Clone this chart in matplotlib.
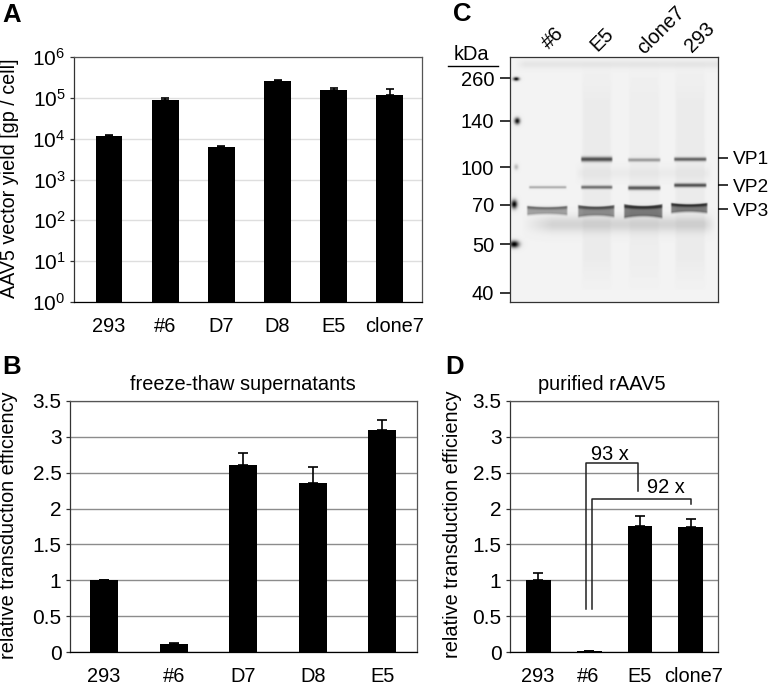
#!/usr/bin/env python

import matplotlib
matplotlib.use('Agg')
import matplotlib.pyplot as plt
import numpy as np

plt.rcParams['font.family'] = ['Liberation Sans', 'DejaVu Sans']
plt.rcParams['axes.axisbelow'] = True

# panel A
a_names = ['293', '#6', 'D7', 'D8', 'E5', 'clone7']
a_yield = [1.14e4, 9.0e4, 6.2e3, 2.6e5, 1.55e5, 1.2e5]
a_top = [1.2e4, 1.0e5, 6.6e3, 2.75e5, 1.7e5, 1.6e5]

# panel B
b_names = ['293', '#6', 'D7', 'D8', 'E5']
b_eff = [1.0, 0.11, 2.61, 2.36, 3.10]
b_err = [0.01, 0.015, 0.16, 0.225, 0.13]

# panel D
d_names = ['293', '#6', 'E5', 'clone7']
d_eff = [1.0, 0.02, 1.76, 1.74]
d_err = [0.10, 0.0, 0.13, 0.12]

eff_ticks = [0, 0.5, 1, 1.5, 2, 2.5, 3, 3.5]
eff_labels = ['0', '0.5', '1', '1.5', '2', '2.5', '3', '3.5']

# panel C, gel read in image pixels
kda_labels = ['260', '140', '100', '70', '50', '40']
kda_pos = [78, 120.7, 167.3, 205, 244, 292.7]
vp_labels = ['VP1', 'VP2', 'VP3']
vp_pos = [157.7, 185, 209.3]
lane_names = ['#6', 'E5', 'clone7', '293']
# x0, x1, y, half height, darkness
thin_bands = [
    (528, 567, 187, 1.3, 0.28),
    (580, 613, 159, 2.4, 0.62),
    (580, 613, 187, 1.7, 0.50),
    (627, 661, 159.7, 1.8, 0.33),
    (627, 661, 187.7, 2.0, 0.60),
    (673, 707, 159, 1.9, 0.55),
    (673, 707, 185, 1.9, 0.62),
]
vp3_bands = [
    (526, 568, 210, 5.0, 0.50),
    (577, 615, 210.5, 6.5, 0.60),
    (623, 663, 210.5, 7.5, 0.72),
    (670, 708, 207.5, 5.5, 0.72),
]
ladder_spots = [
    (516, 78.7, 3.0, 1.8, 0.95),
    (517, 120.7, 2.8, 3.2, 0.90),
    (516, 166.7, 2.2, 2.8, 0.22),
    (514, 204, 3.0, 4.2, 0.95),
    (514, 244, 4.8, 3.4, 0.98),
]
lane_smears = [(581, 612, 0.025), (628, 660, 0.02), (674, 706, 0.025)]


def px_axes(fig, x0, y0, x1, y1):
    return fig.add_axes([x0 / 771, 1 - y1 / 686, (x1 - x0) / 771, (y1 - y0) / 686])


def fig_text(x, y, s, **kw):
    fig.text(x / 771, 1 - y / 686, s, va='center', **kw)


def style_bars(ax, grid):
    ax.spines['top'].set_color('#555555')
    ax.spines['right'].set_color('#555555')
    ax.spines['left'].set_color('#333333')
    ax.spines['bottom'].set_color('black')
    for s in ax.spines.values():
        s.set_linewidth(0.9)
    ax.yaxis.grid(True, color=grid, linewidth=1.0)
    ax.tick_params(axis='x', length=0, pad=11, labelsize=14.4)
    ax.tick_params(axis='y', length=3.2, width=0.9, color='#333333', pad=3, labelsize=15)


def soft(v):
    return np.clip(v, 0, 1)


def make_gel():
    ys, xs = np.mgrid[57:302:0.5, 510:718:0.5]
    dark = np.full(xs.shape, 0.05)
    # smear under the VP3 bands
    dark += 0.12 * np.exp(-((ys - 224) / 8.0) ** 2) * soft((xs - 522) / 30) * soft((716 - xs) / 12)
    dark += 0.05 * np.exp(-((ys - 64) / 4.0) ** 2) * soft((xs - 515) / 10)
    dark += 0.03 * np.exp(-((ys - 173) / 6.0) ** 2) * soft((xs - 575) / 5) * soft((712 - xs) / 5)
    for x0, x1, amt in lane_smears:
        mask = soft((xs - x0) / 3) * soft((x1 - xs) / 3)
        dark += amt * mask * soft((ys - 60) / 40) * soft((290 - ys) / 30)
    for x0, x1, y, h, d in thin_bands:
        mask = soft((xs - x0) / 2) * soft((x1 - xs) / 2)
        dark += d * mask * np.exp(-((ys - y) / h) ** 2)
    for x0, x1, y, h, d in vp3_bands:
        mask = soft((xs - x0) / 2) * soft((x1 - xs) / 2)
        t = (xs - (x0 + x1) / 2) / ((x1 - x0) / 2)
        dy = ys - y
        # bands are pinched in the middle and flare at the ends
        hh = h * (0.72 + 0.28 * t ** 2)
        dark += 0.62 * d * mask * soft((hh - np.abs(dy)) / 1.2)
        dark += 0.42 * d * mask * np.exp(-((dy + hh * 0.6) / 1.7) ** 2)
        dark += 0.30 * d * mask * np.exp(-((dy - hh) / 1.1) ** 2)
    for x, y, rx, ry, d in ladder_spots:
        dark += d * np.exp(-((xs - x) / rx) ** 2 - ((ys - y) / ry) ** 2)
    return 1 - np.clip(dark, 0, 1)


fig = plt.figure(figsize=(7.71, 6.86), dpi=100)

# A
ax = px_axes(fig, 74, 57, 422, 302)
ax.bar(range(6), a_yield, width=0.48, color='black', zorder=3)
ax.errorbar(range(6), a_yield, yerr=[np.zeros(6), np.array(a_top) - np.array(a_yield)],
            fmt='none', ecolor='black', elinewidth=1.2, capsize=3, capthick=1.2, zorder=4)
ax.set_yscale('log')
ax.set_ylim(1, 1e6)
ax.set_xlim(-0.623, 5.57)
style_bars(ax, '#dedede')
ax.tick_params(axis='y', which='minor', length=3.2, width=0.7, color='#333333')
ax.set_yticks([1, 10, 100, 1e3, 1e4, 1e5, 1e6])
ax.set_yticklabels(['$\\mathdefault{10^{%d}}$' % i for i in range(7)], fontsize=15)
ax.set_xticks([0, 1, 2, 3, 4, 5.09])
ax.set_xticklabels(a_names)
fig_text(10, 178, 'AAV5 vector yield [gp / cell]', rotation=90, ha='center', fontsize=14.2)

# B
ax = px_axes(fig, 70, 401, 417, 652)
ax.bar(range(5), b_eff, width=0.4, color='black', zorder=3)
ax.errorbar(range(5), b_eff, yerr=[np.zeros(5), b_err], fmt='none', ecolor='black',
            elinewidth=1.2, capsize=3.5, capthick=1.2, zorder=4)
ax.set_ylim(0, 3.5)
ax.set_xlim(-0.49, 4.5)
style_bars(ax, '#8c8c8c')
ax.set_yticks(eff_ticks)
ax.set_yticklabels(eff_labels)
ax.set_xticks(range(5))
ax.set_xticklabels(b_names)
fig_text(243, 384, 'freeze-thaw supernatants', ha='center', fontsize=14.4)
fig_text(9, 525, 'relative transduction efficiency', rotation=90, ha='center', fontsize=14.4)

# D
ax = px_axes(fig, 510, 401, 718, 652)
ax.bar(range(4), d_eff, width=0.49, color='black', zorder=3)
ax.errorbar(range(4), d_eff, yerr=[np.zeros(4), d_err], fmt='none', ecolor='black',
            elinewidth=1.2, capsize=3.5, capthick=1.2, zorder=4)
ax.set_ylim(0, 3.5)
ax.set_xlim(-0.55, 3.53)
style_bars(ax, '#8c8c8c')
ax.set_yticks(eff_ticks)
ax.set_yticklabels(eff_labels)
ax.set_xticks([0, 0.98, 2, 3.05])
ax.set_xticklabels(d_names)
ax.plot([0.94, 0.94, 1.97, 1.97], [0.6, 2.63, 2.63, 2.25], color='#222222', lw=1.1, zorder=5)
ax.plot([1.06, 1.06, 3.01, 3.01], [0.6, 2.14, 2.14, 2.06], color='#222222', lw=1.1, zorder=5)
ax.text(1.41, 2.75, '93 x', ha='center', va='center', fontsize=14.4)
ax.text(2.51, 2.29, '92 x', ha='center', va='center', fontsize=14.4)
fig_text(602, 385, 'purified rAAV5', ha='center', fontsize=14.4)
fig_text(453, 524, 'relative transduction efficiency', rotation=90, ha='center', fontsize=14.4)

# C
ax = px_axes(fig, 510, 57, 718, 302)
ax.imshow(make_gel(), cmap='gray', vmin=0, vmax=1, extent=(510, 718, 302, 57),
          aspect='auto', interpolation='bilinear')
ax.set_xticks([])
ax.set_yticks(kda_pos)
ax.set_yticklabels(kda_labels)
ax.tick_params(axis='y', length=7.5, width=1.1, pad=4, labelsize=14.5)
for s in ax.spines.values():
    s.set_linewidth(0.9)
    s.set_color('#333333')
ax2 = ax.twinx()
ax2.set_ylim(302, 57)
ax2.set_yticks(vp_pos)
ax2.set_yticklabels(vp_labels)
ax2.tick_params(axis='y', length=7.5, width=1.1, pad=3.5, labelsize=13.8)
for s in ax2.spines.values():
    s.set_visible(False)

fig_text(471, 54, 'kDa', ha='center', fontsize=14.4)
fig.add_artist(plt.Line2D([448 / 771, 498 / 771], [1 - 66 / 686, 1 - 66 / 686], color='black', lw=1.0))
lane_x = [553, 602, 661, 700]
lane_y = [38, 39, 30, 37]
for name, x, y in zip(lane_names, lane_x, lane_y):
    fig_text(x, y, name, ha='center', rotation=45, rotation_mode='anchor', fontsize=14.4)

fig_text(2, 15, 'A', ha='left', fontsize=18.5, fontweight='bold')
fig_text(2, 367, 'B', ha='left', fontsize=18.5, fontweight='bold')
fig_text(453, 14, 'C', ha='left', fontsize=18.5, fontweight='bold')
fig_text(445, 367, 'D', ha='left', fontsize=18.5, fontweight='bold')

fig.savefig('out.png', dpi=100)
